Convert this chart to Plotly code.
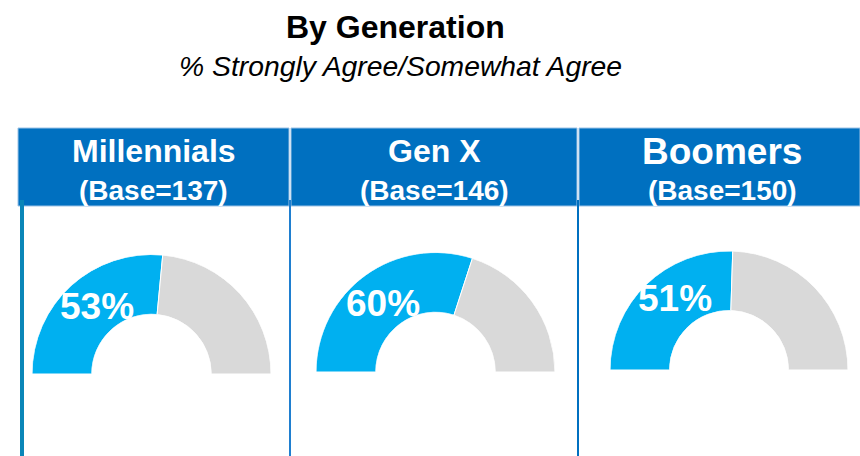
import plotly.graph_objects as go

# ---- data ----
generations = ["Millennials", "Gen X", "Boomers"]
bases = [137, 146, 150]
agree_pct = [53, 60, 51]
title_text = "By Generation"
subtitle_text = "% Strongly Agree/Somewhat Agree"

# ---- styling / geometry (pixels in the screenshot) ----
W, H = 860, 456
OFF = 0  # body margin removed via post_script
FONT = "Liberation Sans, Arial, sans-serif"
CYAN = "#00B0F0"
GREY = "#D9D9D9"
BLUE = "#0070C0"

gauge_geom = [(151.5, 374, 119.5), (435.5, 372, 119.5), (729, 370, 119)]  # cx, baseline y, radius
header_boxes = [(18, 289), (291, 577), (579, 870)]
header_text_x = [153.5, 434.5, 722]
name_sizes = [32, 32, 37]
label_offsets = [(-55, 68), (-52.5, 69), (-54, 71.5)]


def fx(x):
    return (x - OFF) / W


def fy(y):
    return 1 - (y - OFF) / H


fig = go.Figure()
annotations = []
shapes = []

for i, (gen, base, pct) in enumerate(zip(generations, bases, agree_pct)):
    cx, by, r = gauge_geom[i]
    pid = "polar" if i == 0 else f"polar{i + 1}"
    span = pct * 180 / 100
    fig.add_trace(go.Barpolar(
        r=[1, 1],
        theta=[span / 2, span + (180 - span) / 2],
        width=[span, 180 - span],
        marker=dict(color=[CYAN, GREY], line=dict(color="white", width=1)),
        subplot=pid, hoverinfo="skip", showlegend=False,
    ))
    fig.update_layout(**{pid: dict(
        domain=dict(x=[fx(cx - r), fx(cx + r)], y=[fy(by), fy(by - r)]),
        sector=[0, 180], hole=0.5, bgcolor="rgba(0,0,0,0)",
        radialaxis=dict(visible=False, range=[0, 1]),
        angularaxis=dict(visible=False, direction="clockwise", rotation=180,
                         thetaunit="degrees"),
    )})
    # percentage label
    dx, dy = label_offsets[i]
    annotations.append(dict(
        x=fx(cx + dx), y=fy(by - dy), xref="paper", yref="paper",
        text=f"<b>{pct}%</b>", showarrow=False, xanchor="center", yanchor="middle",
        font=dict(family=FONT, size=37, color="white"),
    ))
    # header box
    x0, x1 = header_boxes[i]
    shapes.append(dict(type="rect", xref="paper", yref="paper",
                       x0=fx(x0), x1=min(fx(x1), 1.0), y0=fy(206), y1=fy(128),
                       fillcolor=BLUE, line=dict(color="#9DC3E6", width=1), layer="below"))
    annotations.append(dict(
        x=fx(header_text_x[i]), y=fy(151), xref="paper", yref="paper",
        text=f"<b>{gen}</b>", showarrow=False, xanchor="center", yanchor="middle",
        font=dict(family=FONT, size=name_sizes[i], color="white"),
    ))
    annotations.append(dict(
        x=fx(header_text_x[i]), y=fy(190), xref="paper", yref="paper",
        text=f"<b>(Base={base})</b>", showarrow=False, xanchor="center", yanchor="middle",
        font=dict(family=FONT, size=28, color="white"),
    ))

# vertical divider lines
for xpos, col, wid in [(22, "#0A86B8", 4), (290, "#1F7FD0", 2), (578, "#0070C0", 2)]:
    shapes.append(dict(type="line", xref="paper", yref="paper",
                       x0=fx(xpos), x1=fx(xpos), y0=0, y1=fy(200),
                       line=dict(color=col, width=wid)))

# title & subtitle
annotations.append(dict(
    x=fx(395.5), y=fy(27), xref="paper", yref="paper",
    text=f"<b>{title_text}</b>", showarrow=False, xanchor="center", yanchor="middle",
    font=dict(family=FONT, size=32, color="black"),
))
annotations.append(dict(
    x=fx(400), y=fy(66), xref="paper", yref="paper",
    text=f"<i>{subtitle_text}</i>", showarrow=False, xanchor="center", yanchor="middle",
    font=dict(family=FONT, size=28.3, color="black"),
))

fig.update_layout(
    width=W, height=H,
    margin=dict(l=0, r=0, t=0, b=0),
    paper_bgcolor="white", plot_bgcolor="white",
    annotations=annotations, shapes=shapes,
    showlegend=False,
)

fig.write_html(
    "out.html",
    config={"displayModeBar": False},
    post_script="document.body.style.margin='0';document.body.style.overflow='hidden';",
)
